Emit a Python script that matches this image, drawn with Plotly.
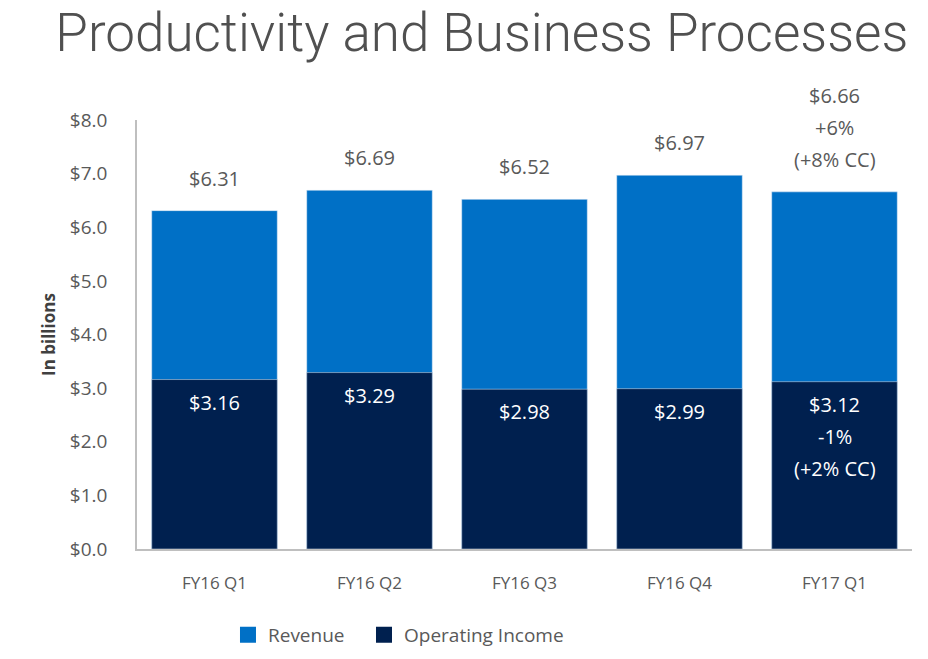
import plotly.graph_objects as go

quarters = ["FY16 Q1", "FY16 Q2", "FY16 Q3", "FY16 Q4", "FY17 Q1"]
revenue = [6.31, 6.69, 6.52, 6.97, 6.66]
op_income = [3.16, 3.29, 2.98, 2.99, 3.12]
rev_labels = ["$6.31", "$6.69", "$6.52", "$6.97", "$6.66<br>+6%<br>(+8% CC)"]
op_labels = ["$3.16", "$3.29", "$2.98", "$2.99", "$3.12<br>-1%<br>(+2% CC)"]
series_names = ["Revenue", "Operating Income"]

BLUE = "#0070C6"
NAVY = "#00204F"
GRAY = "#595959"
FONT = "Open Sans"
LINE_GAP = 32  # px between label lines

fig = go.Figure()
fig.add_trace(go.Bar(x=quarters, y=revenue, name=series_names[0], marker_color=BLUE,
                     hoverinfo="skip", showlegend=False))
fig.add_trace(go.Bar(x=quarters, y=op_income, name=series_names[1], marker_color=NAVY,
                     hoverinfo="skip", showlegend=False))
# legend swatches as big squares, each in its own legend for spacing
for name, col, lg in zip(series_names, [BLUE, NAVY], ["legend", "legend2"]):
    fig.add_trace(go.Scatter(x=[None], y=[None], mode="markers", name=name, legend=lg,
                             marker=dict(symbol="square", size=18, color=col)))

annotations = []
for q, v, t in zip(quarters, revenue, rev_labels):
    lines = t.split("<br>")
    for i, line in enumerate(lines):
        annotations.append(dict(x=q, y=v, text=line, showarrow=False, yanchor="bottom",
                                yshift=17 + (len(lines) - 1 - i) * LINE_GAP,
                                font=dict(size=20, color=GRAY, family=FONT)))
for q, v, t in zip(quarters, op_income, op_labels):
    for i, line in enumerate(t.split("<br>")):
        annotations.append(dict(x=q, y=v, text=line, showarrow=False, yanchor="top",
                                yshift=-7 - i * LINE_GAP,
                                font=dict(size=20, color="white", family=FONT)))
annotations.append(dict(xref="paper", yref="paper", x=0, y=0.5, xshift=-102,
                        text="<b>In billions</b>", textangle=-90, showarrow=False,
                        font=dict(size=17, color="#404040", family=FONT)))

legend_style = dict(orientation="h", xanchor="left", y=-0.2, yanchor="middle",
                    font=dict(size=19, color=GRAY, family=FONT), itemsizing="trace")

# page body has an 8px margin, so the figure is 8px smaller and shifted
fig.update_layout(
    width=920, height=651,
    barmode="overlay", bargap=0.19,
    plot_bgcolor="white", paper_bgcolor="white",
    margin=dict(l=129, r=16, t=112, b=110, autoexpand=False),
    title=dict(text="Productivity and Business Processes", x=0.515, xanchor="center",
               y=0.963, yanchor="middle", yref="container",
               font=dict(size=53, color="#505050", family="Roboto", weight=300)),
    xaxis=dict(showline=True, linecolor="#BFBFBF", linewidth=1.5, ticks="",
               ticklabelstandoff=18, tickfont=dict(size=17, color=GRAY, family=FONT)),
    yaxis=dict(range=[0, 8], dtick=1, tickprefix="$", tickformat=".1f",
               showgrid=False, zeroline=False, showline=True, linecolor="#BFBFBF",
               linewidth=1.5, ticks="", ticklabelstandoff=24,
               tickfont=dict(size=19, color=GRAY, family=FONT)),
    legend=dict(x=0.1174, **legend_style),
    legend2=dict(x=0.2929, **legend_style),
    annotations=annotations,
)

fig.write_html("out.html")
